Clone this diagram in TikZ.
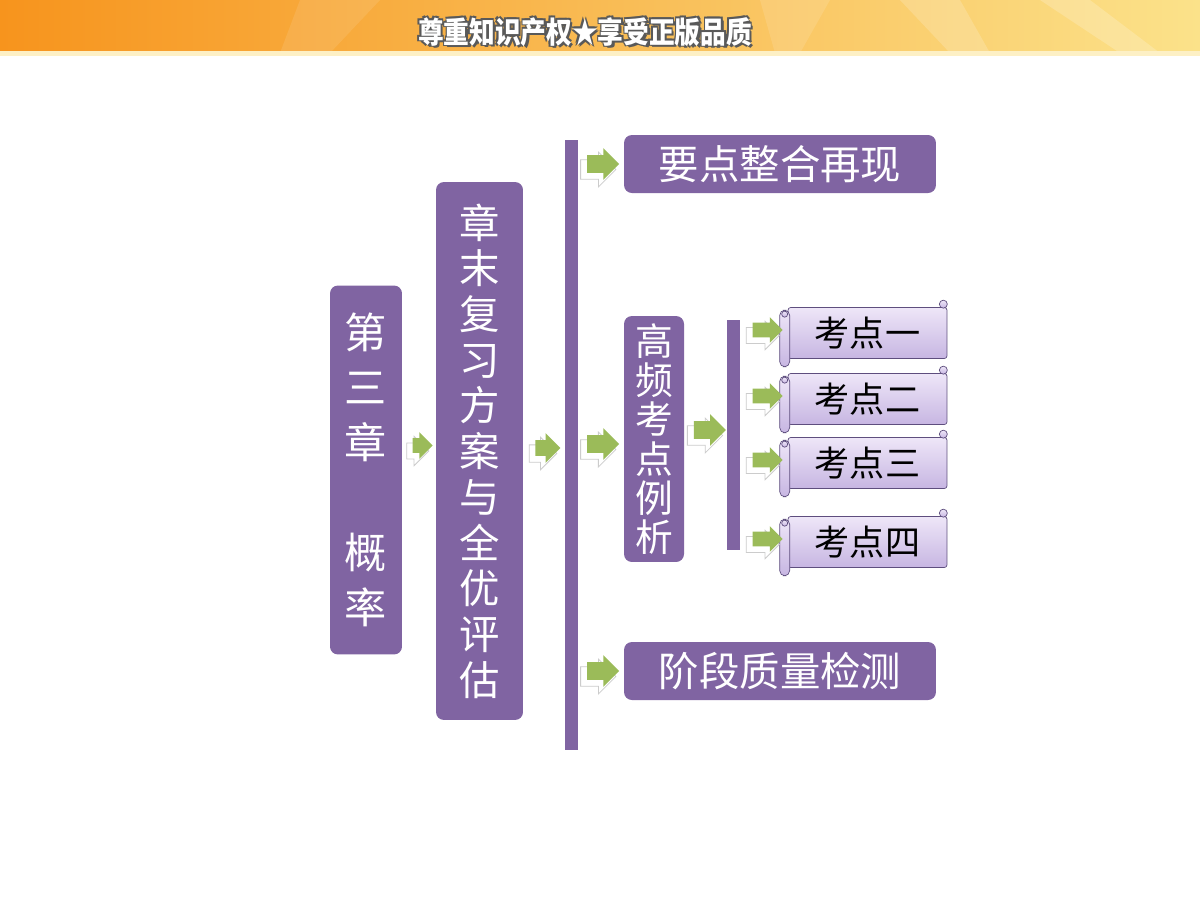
\documentclass[tikz,border=0pt]{standalone}
\usepackage{fontspec}
\newfontfamily\cjk{Noto Sans CJK SC}
\usetikzlibrary{shapes.arrows,shadows,calc,positioning}
\definecolor{boxpurple}{HTML}{8064A2}
\definecolor{arrowgreen}{HTML}{9BBB59}
\definecolor{scrolltop}{HTML}{EEE6F8}
\definecolor{scrollbot}{HTML}{C7B6E2}
\definecolor{scrollline}{HTML}{5E4E7E}
\definecolor{bannerorange}{HTML}{F7941D}
\definecolor{banneryellow}{HTML}{FBC23F}
\definecolor{bannerlight}{HTML}{FBE28A}
\tikzset{
  pbox/.style={fill=boxpurple, rounded corners=4.5pt, text=white, inner sep=0pt, align=center},
  pbar/.style={fill=boxpurple, inner sep=0pt, minimum width=0.26cm},
  garrow/.style={single arrow, fill=arrowgreen, inner xsep=0pt, inner ysep=0.17cm,
    minimum height=0.64cm, single arrow head extend=0.14cm,
    copy shadow={shadow xshift=-0.09cm, shadow yshift=-0.1cm, shadow scale=1.1,
      fill=white, draw=gray!40}},
  scroll/.style={draw=scrollline, top color=scrolltop, bottom color=scrollbot, inner sep=0pt,
    minimum width=3.18cm, minimum height=1.02cm, rounded corners=1.5pt,
    font=\cjk\fontsize{20}{20}\selectfont},
  roll/.style={draw=scrollline, top color=scrolltop, bottom color=scrollbot},
  bannertext/.style={font=\cjk\bfseries\fontsize{17}{17}\selectfont, inner sep=0pt}
}
\newcommand\bannertxt{\scalebox{0.86}[1]{尊重知识产权★享受正版品质}}

\begin{document}
\begin{tikzpicture}[x=0.02cm, y=-0.02cm, line cap=round]
	\fill[white] (0,0) rectangle (1200,900);
	\useasboundingbox (0,0) rectangle (1200,900);
	% banner
	\shade[left color=bannerorange, middle color=banneryellow, right color=bannerlight] (0,0) rectangle (1200,53);
	\fill[white, opacity=0.12] (760,0) -- (830,0) -- (800,53) -- (775,53) -- cycle;
	\fill[white, opacity=0.18] (900,0) -- (960,0) -- (990,53) -- (950,53) -- cycle;
	\fill[white, opacity=0.2] (1040,0) -- (1090,0) -- (1160,53) -- (1120,53) -- cycle;
	\fill[white, opacity=0.1] (300,0) -- (380,0) -- (330,53) -- (280,53) -- cycle;
	\fill[bannerlight!50!white] (0,51) rectangle (1200,56);
	\coordinate (T) at (585,32);
	\foreach \dx/\dy in {1.5/1.5,-1.5/1.5,1.5/-1.5,-1.5/-1.5,2.5/2.5}
		\node[bannertext, text=black!65] at ($(T)+(\dx,\dy)$) {\bannertxt};
	\node[bannertext, text=white] (banner) at (T) {\bannertxt};

	% main boxes
	\coordinate (C1) at (366,470);
	\coordinate (C2) at (479.5,451);
	\coordinate (B1) at (571.5,445);
	\coordinate (P1) at (780,164);
	\coordinate (P2) at (654,439);
	\coordinate (P3) at (780,671);
	\coordinate (B2) at (733.5,435);
	\node[pbox, minimum width=1.44cm, minimum height=7.38cm, font=\cjk\fontsize{24}{31.3}\selectfont] (ch3) at (C1) {第\\三\\章\\[31.3pt]概\\率};
	\node[pbox, minimum width=1.74cm, minimum height=10.76cm, font=\cjk\fontsize{23}{26}\selectfont] (rev) at (C2) {章\\末\\复\\习\\方\\案\\与\\全\\优\\评\\估};
	\node[pbar, minimum height=12.2cm] (bar1) at (B1) {};
	\node[pbox, minimum width=6.24cm, minimum height=1.16cm, font=\cjk\fontsize{23}{23}\selectfont] (top) at (P1) {要点整合再现};
	\node[pbox, minimum width=1.2cm, minimum height=4.92cm, font=\cjk\fontsize{21.5}{22.3}\selectfont] (mid) at (P2) {高\\频\\考\\点\\例\\析};
	\node[pbox, minimum width=6.24cm, minimum height=1.16cm, font=\cjk\fontsize{23}{23}\selectfont] (bot) at (P3) {阶段质量检测};
	\node[pbar, minimum height=4.6cm] (bar2) at (B2) {};

	% scrolls
	\node[scroll] (k1) at (867.5,333) {考点一};
	\node[scroll] (k2) at (867.5,399) {考点二};
	\node[scroll] (k3) at (867.5,463) {考点三};
	\node[scroll] (k4) at (867.5,542) {考点四};
	\foreach \k in {k1,k2,k3,k4} {
		\draw[roll, rounded corners=3pt] ($(\k.north west)+(-8,3)$) rectangle ($(\k.south west)+(2,8)$);
		\draw[roll] ($(\k.north west)+(-3,7)$) circle[radius=0.06cm];
		\draw[roll] ($(\k.north east)+(-4,-3)$) circle[radius=0.08cm];
	}

	% arrows
	\node[garrow, minimum height=0.4cm, inner ysep=0.14cm, single arrow head extend=0.12cm] (a1) at ($(ch3.east)!0.5!(rev.west)+(0,-15)$) {};
	\node[garrow, minimum height=0.5cm, inner ysep=0.15cm] (a2) at ($(rev.east)!0.5!(bar1.west)$) {};
	\node[garrow] (a3) at ($(bar1.east |- top.west)!0.45!(top.west)$) {};
	\node[garrow] (a4) at ($(bar1.east |- mid.west)!0.45!(mid.west)+(0,5)$) {};
	\node[garrow] (a5) at ($(bar1.east |- bot.west)!0.45!(bot.west)$) {};
	\node[garrow] (a6) at ($(mid.east)!0.5!(bar2.west |- mid.east)+(0,-9)$) {};
	\foreach \k in {k1,k2,k3,k4}
		\node[garrow, minimum height=0.6cm, inner ysep=0.14cm, single arrow head extend=0.11cm] (a\k) at ($(bar2.east |- \k.west)!0.5!(\k.west)+(0,-3)$) {};
\end{tikzpicture}
\end{document}
